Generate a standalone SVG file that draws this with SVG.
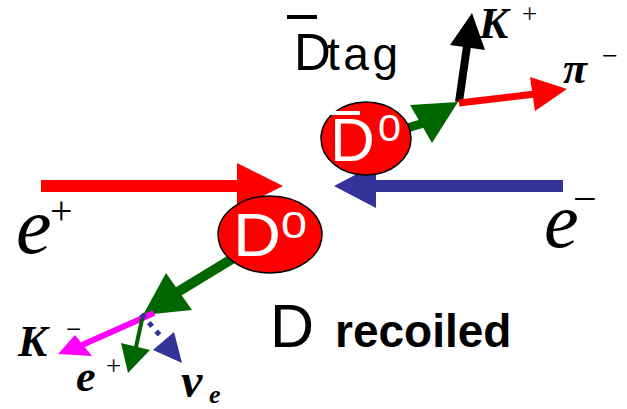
<svg xmlns="http://www.w3.org/2000/svg" width="627" height="409" viewBox="0 0 627 409">
<style>
.red{fill:#ff0000}.redS{stroke:#ff0000}
.blue{fill:#333399}.blueS{stroke:#333399}
.green{fill:#006600}.greenS{stroke:#006600}
.mag{fill:#ff00ff}.magS{stroke:#ff00ff}
.blk{fill:#000}.blkS{stroke:#000}
line{fill:none}
.sym{font-family:"Liberation Serif","Times New Roman",serif;font-style:italic;font-weight:bold;fill:#000}
.symr{font-family:"Liberation Serif","Times New Roman",serif;fill:#000}
.big{font-family:"Liberation Serif","Times New Roman",serif;font-style:italic;fill:#000}
.sans{font-family:"Liberation Sans",Arial,sans-serif;fill:#000}
.wsans{font-family:"Liberation Sans",Arial,sans-serif;fill:#fff}
.ell{fill:#ff0000;stroke:#000;stroke-width:1.5}
</style>
<g id="connectors">
  <g id="beam-eplus">
    <line class="redS" x1="41" y1="186" x2="240" y2="186" stroke-width="12"/>
    <polygon class="red" points="237,163 283,186 237,209"/>
  </g>
  <g id="beam-eminus">
    <line class="blueS" x1="563" y1="186" x2="372" y2="186" stroke-width="12"/>
    <polygon class="blue" points="376,164 334,186 376,208"/>
  </g>
  <g id="tag-flight">
    <line class="greenS" x1="390" y1="133" x2="424" y2="123" stroke-width="9"/>
    <polygon class="green" points="410,105 458,102 432,143"/>
  </g>
  <g id="kplus">
    <line class="blkS" x1="459" y1="102" x2="467" y2="46" stroke-width="8"/>
    <polygon class="blk" points="450,45 472,13 485,50"/>
  </g>
  <g id="piminus">
    <line class="redS" x1="459" y1="103" x2="535" y2="94" stroke-width="7"/>
    <polygon class="red" points="530,77 567,89 535,111"/>
  </g>
  <g id="recoil-flight">
    <line class="greenS" x1="245" y1="251" x2="176" y2="293" stroke-width="10"/>
    <polygon class="green" points="166,273 192,310 143,315"/>
  </g>
  <g id="kminus">
    <line class="magS" x1="154" y1="313" x2="82" y2="345" stroke-width="6"/>
    <polygon class="mag" points="75,335 58,354 92,356"/>
  </g>
  <g id="eplus-decay">
    <line class="greenS" x1="143" y1="315" x2="136" y2="347" stroke-width="4"/>
    <polygon class="green" points="121,343 128,373 150,350"/>
  </g>
  <g id="nu">
    <line class="blueS" x1="141.4" y1="314.1" x2="160" y2="335.5" stroke-width="5" stroke-dasharray="5 6.3"/>
    <polygon class="blue" points="153,350 174,332 182,363"/>
  </g>
</g>
<g id="node-dbar0">
  <ellipse class="ell" cx="366" cy="138.5" rx="45" ry="36.5"/>
  <rect x="330" y="111" width="30" height="4" fill="#fff"/>
  <text class="wsans" x="330" y="161" font-size="62">D</text>
  <text class="wsans" x="378" y="141" font-size="36" textLength="23" lengthAdjust="spacingAndGlyphs">0</text>
</g>
<g id="node-d0">
  <ellipse class="ell" cx="270" cy="234.5" rx="52" ry="38.5"/>
  <text class="wsans" x="233" y="256" font-size="62" textLength="48" lengthAdjust="spacingAndGlyphs">D</text>
  <text class="wsans" x="281" y="238" font-size="36" textLength="26" lengthAdjust="spacingAndGlyphs">0</text>
</g>
<g id="label-dtag">
  <rect x="287" y="15" width="30" height="4" fill="#000"/>
  <text class="sans" x="294" y="70" font-size="51">D</text>
  <text class="sans" x="327" y="70" font-size="46" textLength="71">tag</text>
</g>
<g id="label-drecoiled">
  <text class="sans" x="270" y="347" font-size="61">D</text>
  <text class="sans" x="335" y="347" font-size="46" font-weight="bold">recoiled</text>
</g>
<g id="label-eplus-beam">
  <text class="big" x="16" y="253" font-size="80">e</text>
  <text class="symr" x="50" y="224" font-size="40">+</text>
</g>
<g id="label-eminus-beam">
  <text class="big" x="544" y="247" font-size="78">e</text>
  <text class="symr" x="573" y="213" font-size="42">−</text>
</g>
<g id="label-kplus">
  <text class="sym" x="479" y="38" font-size="44">K</text>
  <text class="symr" x="522" y="23" font-size="27">+</text>
</g>
<g id="label-piminus">
  <text class="sym" x="563" y="83" font-size="44">π</text>
  <text class="symr" x="602" y="65" font-size="28">−</text>
</g>
<g id="label-kminus">
  <text class="sym" x="18" y="356" font-size="44">K</text>
  <text class="symr" x="66" y="338" font-size="27">−</text>
</g>
<g id="label-eplus-decay">
  <text class="sym" x="76" y="391" font-size="44">e</text>
  <text class="symr" x="106" y="375" font-size="27">+</text>
</g>
<g id="label-nue">
  <text class="sym" x="181" y="397" font-size="48">ν</text>
  <text class="sym" x="209" y="403" font-size="26">e</text>
</g>
</svg>
